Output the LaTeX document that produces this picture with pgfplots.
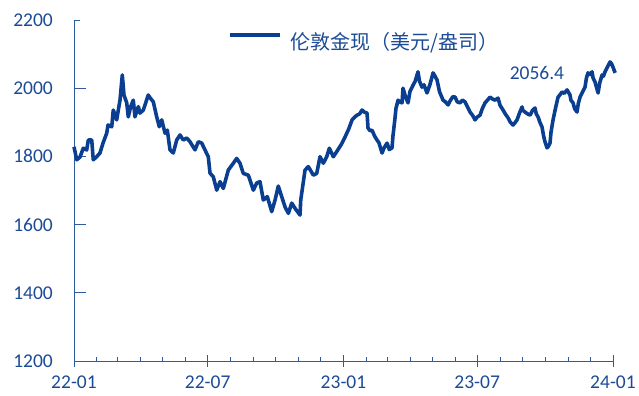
\documentclass[border=0pt]{standalone}
\usepackage{pgfplots}
\pgfplotsset{compat=1.18}
\usepackage{fontspec}
\setmainfont{Carlito}
\newfontfamily\cjk{Noto Sans CJK SC}
\definecolor{goldline}{RGB}{10,62,145}
\definecolor{txtblue}{RGB}{28,75,150}
\definecolor{axblue}{RGB}{47,90,160}
\begin{document}
\begin{tikzpicture}
\begin{axis}[
  name=ax,
  scale only axis,
  width=539bp, height=341bp,
  xmin=0, xmax=730, ymin=1200, ymax=2200,
  clip=false,
  axis x line=bottom, axis y line=left,
  axis line style={axblue, line width=0.9pt, -},
  xtick={0,181,365,546,730},
  xticklabels={22-01,22-07,23-01,23-07,24-01},
  minor xtick={31,59,90,120,151,212,243,273,304,334,396,424,455,485,516,577,608,638,669,699},
  ytick={1200,1400,1600,1800,2000,2200},
  major tick length=12bp,
  minor tick length=4bp,
  x tick style={axblue, line width=0.9pt},
  y tick style={axblue, line width=0.9pt},
  xtick align=center,
  minor x tick style={yshift=2bp},
  ytick align=inside,
  major y tick style={shorten >=6bp},
  ticklabel style={font=\fontsize{19.5bp}{23bp}\selectfont, text=txtblue, inner sep=0pt},
  /pgf/number format/assume math mode=true,
  /pgf/number format/.cd, 1000 sep={},
  /pgfplots/.cd,
  yticklabel shift=21bp,
  xticklabel shift=9bp,
  legend style={at={(rel axis cs:0.2857,0.9355)}, anchor=west, draw=none, fill=none,
    inner sep=0pt, column sep=9bp, nodes={inner sep=0pt},
    font=\cjk\fontsize{20bp}{24bp}\selectfont, text=txtblue},
  legend image code/.code={\draw[goldline, line width=3.6pt] (0bp,7bp) -- (50bp,7bp);},
]
\addplot[goldline, line width=3.6pt, line join=round] coordinates {
(0,1828) (3.7,1790) (8.1,1798) (12.6,1824) (17.2,1819) (19.4,1848) (24,1848) (26.1,1790) (30.7,1799)
(35.2,1810) (39.3,1839) (44.3,1868) (46.1,1892) (51.1,1887) (53.2,1936) (57.8,1907) (62.3,1965) (65.4,2039)
(67.7,1980) (71.4,1957) (73.5,1916) (76.8,1946) (80.3,1965) (82.6,1916) (87.1,1946) (89.4,1927) (93.9,1936)
(100.6,1980) (103,1972) (107.4,1960) (112,1916) (115.5,1887) (118.8,1907) (123.3,1868) (126.4,1877) (130,1819)
(134.5,1810) (139.1,1848) (143.6,1863) (148,1848) (152.7,1854) (157.1,1843) (163.9,1819) (168.4,1843) (173,1839)
(177.4,1819) (181.9,1799) (184.2,1751) (188.7,1740) (193.3,1701) (197.8,1726) (202.2,1706) (209,1760) (215.8,1780)
(220.3,1794) (224.8,1780) (229.3,1750) (236.1,1745) (242.9,1701) (247.5,1722) (251.9,1726) (256.4,1672)
(261.8,1682) (267.8,1638) (272.3,1672) (276.7,1713) (281.3,1682) (285.8,1652) (290.3,1633) (294.9,1663)
(299.3,1648) (306.1,1628) (307.1,1672) (312.9,1760) (317.4,1770) (324.1,1745) (328.7,1750) (333.2,1799)
(337.7,1780) (342.3,1799) (345.8,1824) (351.2,1799) (355.8,1814)
(362,1835) (367.1,1857) (372,1880) (376.6,1907)
(380,1915) (383.3,1921) (387,1925) (390.1,1936) (393,1930) (396.9,1927) (398.2,1883) (401,1875) (403.6,1877)
(407,1860) (410.4,1848) (413,1840) (417.2,1810) (420,1825) (424,1839) (427,1820) (430.7,1825) (432,1860) (434.8,1913)
(436,1940) (438.9,1965) (441,1960) (444.3,1957) (445.6,2000) (449,1975) (452.4,1957) (455,1990) (459.2,2009)
(462,2020) (465.9,2048) (468,2020) (471.4,2003) (474,2010) (478.1,1986) (482,2010) (486.3,2045) (489,2035) (491.7,2024)
(495,1990) (499.8,1965) (503,1960) (506.6,1951) (510,1965) (513,1975) (516.1,1974) (519,1960) (522.8,1957) (526,1965)
(529.6,1960) (533,1945) (536.4,1930) (540,1920) (543.1,1907) (546,1915) (549.9,1921) (553,1940) (556.7,1957)
(560,1965) (563.5,1974) (567,1968) (570.2,1965) (574.3,1971) (577,1950) (581.1,1936) (584,1925) (587.9,1913)
(591,1900) (594.6,1892) (597,1898) (600,1907) (603,1925) (606.8,1945) (608,1935) (610.9,1930) (614,1925) (617.7,1921)
(621,1935) (624.4,1942) (626,1925) (628.5,1916) (631,1900) (633.9,1886) (636,1860) (638,1842) (640.7,1825) (642,1828)
(644.7,1839) (646,1870) (648.8,1907) (652,1940) (655.6,1974) (658,1980) (661,1989) (664,1985) (667.8,1995) (671.8,1980)
(673,1965) (675.9,1957) (678,1940) (681.3,1930) (683,1955) (685.4,1974) (689,1990) (692.1,2003) (694,2030) (696.2,2045)
(699,2040) (701.6,2048) (703,2030) (705.7,2018) (708,2000) (709.8,1986) (712,2015) (715.2,2039) (717,2035) (719.2,2048)
(722,2060) (726,2077) (728,2072) (730,2062) (732,2050) (733,2045)
};
\addlegendentry{伦敦金现（美元/盎司）}
\node[text=txtblue, font=\fontsize{19.5bp}{23bp}\selectfont, inner sep=0pt] at (axis cs:627,2045) {2056.4};
\end{axis}
\pgfresetboundingbox
\path[use as bounding box] (ax.south west) ++(-74bp,-35bp) rectangle ++(639bp,396bp);
\end{tikzpicture}
\end{document}
